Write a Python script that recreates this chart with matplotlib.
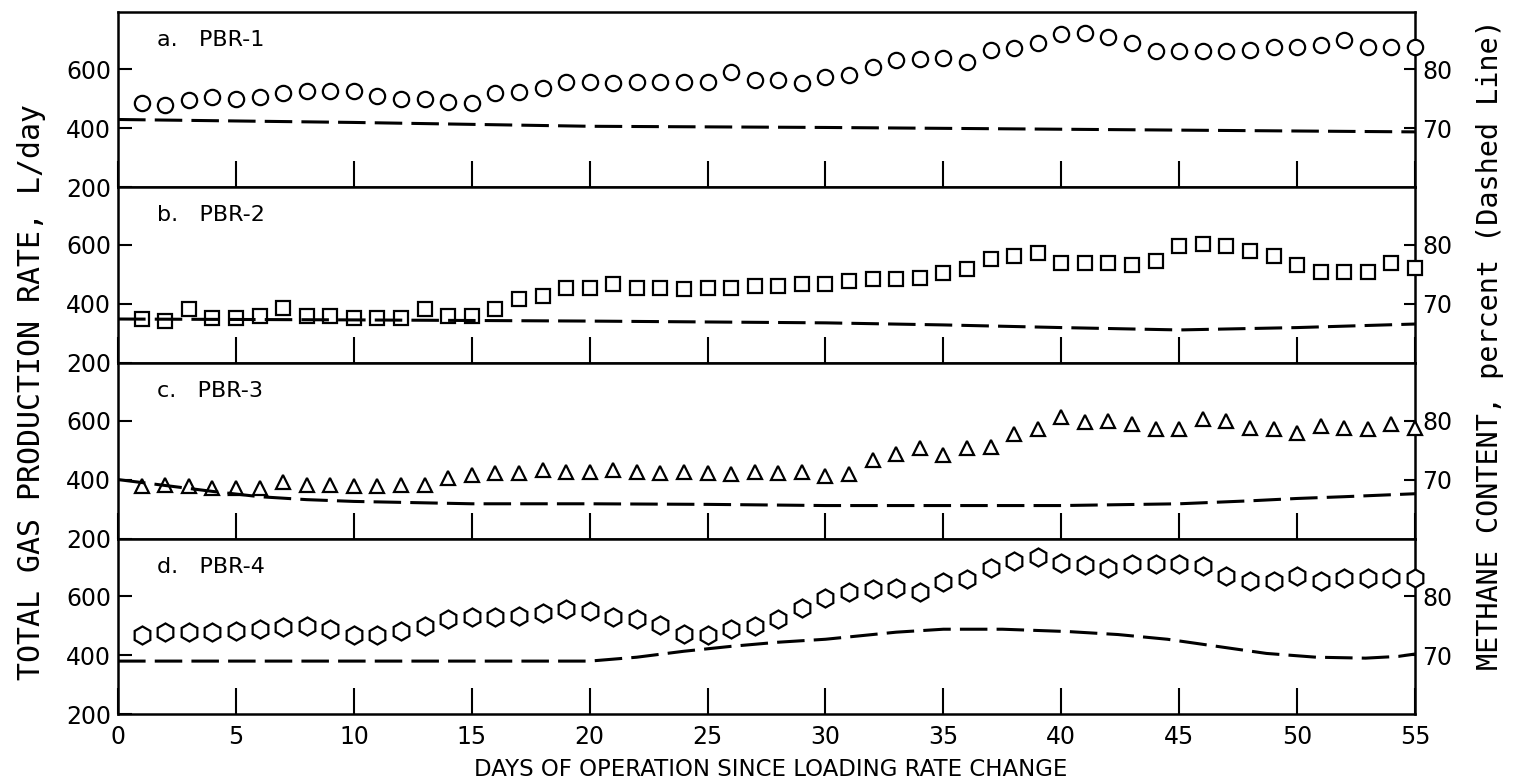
import matplotlib.pyplot as plt

plt.rcParams['font.family'] = ['DejaVu Sans']

# gas production, L/day, one reading per day (days 1..55)
days = list(range(1, 56))
pbr1_gas = [486, 480, 497, 506, 500, 506, 520, 528, 525, 525,
            511, 500, 500, 488, 486, 520, 522, 536, 558, 558,
            553, 556, 556, 558, 558, 590, 563, 565, 552, 573,
            581, 609, 630, 635, 640, 625, 667, 672, 688, 719,
            724, 708, 688, 661, 661, 661, 661, 667, 677, 677,
            682, 698, 677, 677, 677]
pbr2_gas = [349, 342, 383, 353, 353, 359, 386, 359, 359, 353,
            353, 353, 383, 359, 359, 383, 417, 427, 454, 454,
            466, 454, 454, 451, 454, 454, 461, 461, 468, 468,
            478, 485, 485, 488, 505, 519, 553, 563, 573, 539,
            539, 538, 532, 544, 597, 603, 597, 579, 562, 532,
            509, 509, 509, 538, 521]
pbr3_gas = [378, 383, 378, 370, 370, 370, 392, 380, 383, 378,
            378, 383, 383, 405, 416, 422, 422, 433, 427, 427,
            433, 427, 422, 427, 422, 419, 427, 422, 427, 412,
            418, 465, 488, 506, 482, 506, 512, 553, 571, 612,
            594, 600, 588, 571, 571, 606, 600, 576, 571, 559,
            582, 576, 571, 588, 576]
pbr4_gas = [469, 478, 480, 478, 483, 489, 494, 500, 489, 469,
            467, 483, 500, 522, 528, 531, 533, 544, 556, 550,
            528, 522, 502, 472, 467, 489, 500, 522, 561, 593,
            613, 623, 627, 613, 647, 657, 697, 720, 733, 712,
            705, 697, 710, 710, 710, 703, 670, 653, 653, 670,
            653, 660, 660, 663, 660]

# methane content, percent (dashed lines)
pbr1_ch4_days = [0, 10, 20, 30, 40, 55]
pbr1_ch4 = [71.5, 71.0, 70.35, 70.15, 69.85, 69.4]
pbr2_ch4_days = [0, 10, 20, 30, 35, 40, 45, 50, 55]
pbr2_ch4 = [67.45, 67.3, 67.1, 66.8, 66.45, 66.0, 65.6, 66.0, 66.6]
pbr3_ch4_days = [0, 2, 4, 6, 8, 10, 15, 20, 25, 30, 35, 40, 45, 48, 50, 52, 55]
pbr3_ch4 = [70.0, 69.0, 68.0, 67.1, 66.6, 66.3, 65.9, 65.9, 65.8, 65.6,
            65.6, 65.6, 65.9, 66.4, 66.8, 67.1, 67.6]
pbr4_ch4_days = [0, 5, 10, 15, 20, 22, 24, 26, 28, 30, 33, 35, 37.5,
                 40.3, 42.4, 44.5, 46.6, 48.7, 50.8, 52.9, 54.3, 55]
pbr4_ch4 = [69.0, 69.0, 69.0, 69.0, 69.0, 69.66, 70.67, 71.5, 72.2, 72.7,
            73.9, 74.4, 74.4, 74.0, 73.5, 72.7, 71.5, 70.3, 69.66, 69.5,
            69.8, 70.2]

labels = ['a.   PBR-1', 'b.   PBR-2', 'c.   PBR-3', 'd.   PBR-4']
gas = [pbr1_gas, pbr2_gas, pbr3_gas, pbr4_gas]
ch4_days = [pbr1_ch4_days, pbr2_ch4_days, pbr3_ch4_days, pbr4_ch4_days]
ch4 = [pbr1_ch4, pbr2_ch4, pbr3_ch4, pbr4_ch4]
markers = ['o', 's', '^', 'h']
msizes = [11, 10, 10, 13]

fig, axes = plt.subplots(4, 1, sharex=True, figsize=(15.14, 7.84), dpi=100)
fig.subplots_adjust(left=0.078, right=0.9346, top=0.985, bottom=0.089, hspace=0)

for i, ax in enumerate(axes):
    ax.plot(days, gas[i], linestyle='none', marker=markers[i], ms=msizes[i],
            mfc='white', mec='black', mew=1.6, clip_on=False, zorder=4)
    ax.set_xlim(0, 55)
    ax.set_ylim(200, 795)
    ax.set_yticks([200, 400, 600])
    ax.set_xticks(range(0, 56, 5))
    ax.tick_params(axis='y', direction='in', length=10, width=1.5, labelsize=17, pad=5)
    ax.tick_params(axis='x', direction='in', length=19, width=1.5, labelsize=17, pad=8)
    for sp in ax.spines.values():
        sp.set_linewidth(1.8)
    ax.text(0.03, 0.84, labels[i], transform=ax.transAxes, fontsize=16, va='center')

    ax2 = ax.twinx()
    ax2.plot(ch4_days[i], ch4[i], color='black', lw=2.2, dashes=(9, 3))
    ax2.set_ylim(60, 89.75)
    ax2.set_yticks([70, 80])
    ax2.tick_params(axis='y', direction='in', length=8, width=1.5, labelsize=17, pad=5)
    for sp in ax2.spines.values():
        sp.set_visible(False)

fig.text(0.021, 0.50, 'TOTAL GAS PRODUCTION RATE, L/day', rotation=90,
         ha='center', va='center', fontsize=21.5, family='DejaVu Sans Mono')
fig.text(0.984, 0.56, 'METHANE CONTENT, percent (Dashed Line)', rotation=90,
         ha='center', va='center', fontsize=20.5, family='DejaVu Sans Mono')
fig.text(0.509, 0.018, 'DAYS OF OPERATION SINCE LOADING RATE CHANGE',
         ha='center', va='center', fontsize=16.5)

fig.savefig('out.png', dpi=100)
